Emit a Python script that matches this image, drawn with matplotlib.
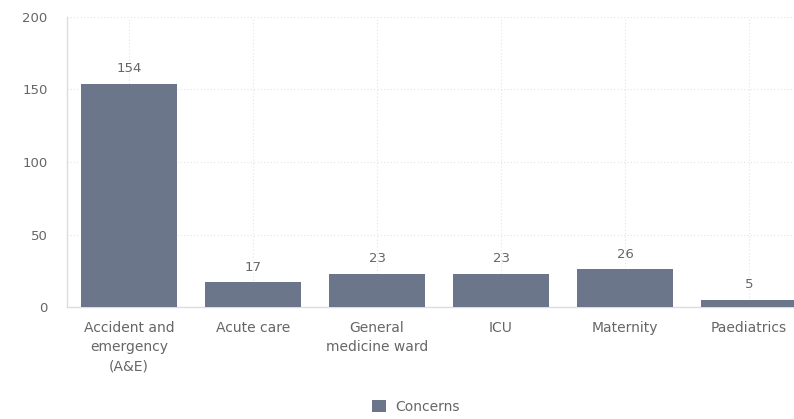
import matplotlib
matplotlib.use("Agg")
import matplotlib.pyplot as plt
from matplotlib.patches import Patch

categories = ["Accident and\nemergency\n(A&E)", "Acute care", "General\nmedicine ward",
              "ICU", "Maternity", "Paediatrics"]
concerns = [154, 17, 23, 23, 26, 5]
yticks = [0, 50, 100, 150, 200]

plt.rcParams['font.family'] = ['DejaVu Sans']
bar_color = "#6b768b"
text_color = "#666666"
fs = 9.5

fig = plt.figure(figsize=(7.94, 4.19), dpi=100)
ax = fig.add_axes([67/794, (419-307)/419, (811-67)/794, (307-17)/419])

x = list(range(len(categories)))
bars = ax.bar(x, concerns, width=0.78, color=bar_color, zorder=3)
for xi, v in zip(x, concerns):
    ax.text(xi, v + 6, str(v), ha='center', va='bottom', fontsize=fs, color=text_color)

ax.set_xlim(-0.5, len(categories) - 0.5)
ax.set_ylim(0, 200)
ax.set_yticks(yticks)
ax.set_yticklabels([str(t) for t in yticks])
ax.set_xticks(x)
ax.set_xticklabels(categories, fontsize=10, color=text_color, linespacing=1.5)
ax.tick_params(axis='y', labelsize=fs, labelcolor=text_color, length=0, pad=14)
ax.tick_params(axis='x', length=0, pad=10)

ax.grid(True, color="#e4e4e4", linestyle=(0, (1, 2)), linewidth=0.8, zorder=0)
for s in ['top', 'right']:
    ax.spines[s].set_visible(False)
for s in ['left', 'bottom']:
    ax.spines[s].set_color("#dddddd")
    ax.spines[s].set_linewidth(1)

handle = Patch(facecolor=bar_color, edgecolor='none')
fig.legend([handle], ["Concerns"], loc='center', bbox_to_anchor=(416/794, 1 - 407/419),
           frameon=False, fontsize=10, labelcolor=text_color, handlelength=1.0,
           handleheight=1.0, handletextpad=0.7)

fig.savefig("out.png", dpi=100)
